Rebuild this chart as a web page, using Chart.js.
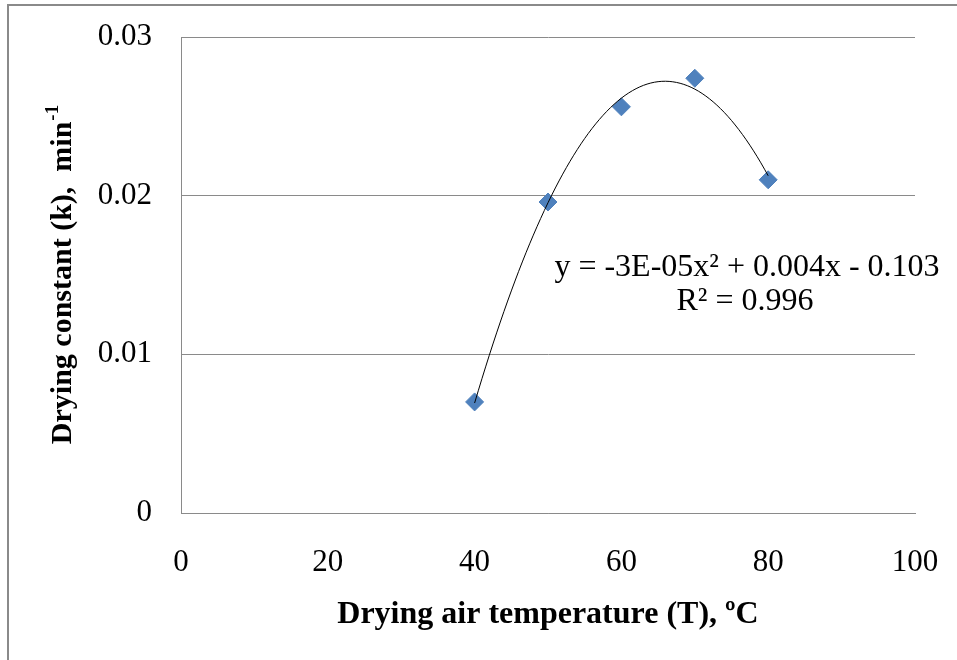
<!DOCTYPE html>
<html>
<head>
<meta charset="utf-8">
<script src="https://cdn.jsdelivr.net/npm/chart.js@4"></script>
<style>
  html, body { margin: 0; padding: 0; background: #fff; }
  #wrap { width: 957px; height: 660px; }
</style>
</head>
<body>
<div id="wrap"><canvas id="chart" width="957" height="660"></canvas></div>
<script>
// Drying constant vs drying air temperature
const temperatures = [40, 50, 60, 70, 80];
const dryingConstants = [0.007, 0.0196, 0.0256, 0.0274, 0.021];
const xTicks = [0, 20, 40, 60, 80, 100];
const yTicks = [0, 0.01, 0.02, 0.03];
const equationLines = ["y = -3E-05x² + 0.004x - 0.103", "R² = 0.996"];

const serif = "'Liberation Serif', 'Times New Roman', serif";

// least squares 2nd order fit of the measured points (the trendline)
function quadFit(xs, ys) {
  let s = [0, 0, 0, 0, 0], t = [0, 0, 0];
  xs.forEach((x, i) => {
    for (let k = 0; k < 5; k++) s[k] += Math.pow(x, k);
    for (let k = 0; k < 3; k++) t[k] += ys[i] * Math.pow(x, k);
  });
  const m = [[s[0], s[1], s[2], t[0]], [s[1], s[2], s[3], t[1]], [s[2], s[3], s[4], t[2]]];
  for (let i = 0; i < 3; i++) {
    for (let j = i + 1; j < 3; j++) {
      const f = m[j][i] / m[i][i];
      for (let k = i; k < 4; k++) m[j][k] -= f * m[i][k];
    }
  }
  const c = [0, 0, 0];
  for (let i = 2; i >= 0; i--) {
    let v = m[i][3];
    for (let k = i + 1; k < 3; k++) v -= m[i][k] * c[k];
    c[i] = v / m[i][i];
  }
  return c;
}
const coef = quadFit(temperatures, dryingConstants);
const trend = [];
const x0 = temperatures[0], x1 = temperatures[temperatures.length - 1];
for (let i = 0; i <= 80; i++) {
  const x = x0 + (x1 - x0) * i / 80;
  trend.push({ x: x, y: coef[0] + coef[1] * x + coef[2] * x * x });
}

// frame, axis titles and the trendline label
const decorations = {
  id: "decorations",
  beforeDraw(chart) {
    const ctx = chart.ctx;
    ctx.save();
    ctx.fillStyle = "#fff";
    ctx.fillRect(0, 0, chart.width, chart.height);
    ctx.strokeStyle = "#8a8a8a";
    ctx.lineWidth = 2;
    ctx.beginPath();
    ctx.moveTo(8, chart.height);
    ctx.lineTo(8, 5);
    ctx.lineTo(chart.width, 5);
    ctx.stroke();
    ctx.restore();
  },
  afterDraw(chart) {
    const ctx = chart.ctx;
    const area = chart.chartArea;
    ctx.save();
    ctx.fillStyle = "#000";
    ctx.textBaseline = "middle";

    // x title
    ctx.font = "bold 32px " + serif;
    ctx.textAlign = "center";
    ctx.fillText("Drying air temperature (T), ºC", (area.left + area.right) / 2, 615);

    // y title with superscript
    ctx.save();
    ctx.translate(63, (area.top + area.bottom) / 2);
    ctx.rotate(-Math.PI / 2);
    const main = "Drying constant (k),  min";
    ctx.font = "bold 30px " + serif;
    const w1 = ctx.measureText(main).width;
    ctx.font = "bold 19px " + serif;
    const w2 = ctx.measureText("-1").width;
    let sx = -(w1 + w2) / 2;
    ctx.textAlign = "left";
    ctx.font = "bold 30px " + serif;
    ctx.fillText(main, sx, 0);
    ctx.font = "bold 19px " + serif;
    ctx.fillText("-1", sx + w1 + 1, -10);
    ctx.restore();

    // equation
    ctx.font = "32px " + serif;
    ctx.textAlign = "center";
    ctx.fillText(equationLines[0], 747, 268);
    ctx.fillText(equationLines[1], 745, 302);
    ctx.restore();
  }
};

new Chart(document.getElementById("chart"), {
  type: "scatter",
  data: {
    datasets: [
      {
        label: "Trendline",
        data: trend,
        showLine: true,
        borderColor: "#000",
        borderWidth: 1,
        pointRadius: 0,
        fill: false,
        tension: 0,
      },
      {
        label: "k",
        data: temperatures.map((t, i) => ({ x: t, y: dryingConstants[i] })),
        pointStyle: "rectRot",
        pointRadius: 9,
        backgroundColor: "#4F81BD",
        borderColor: "#4F81BD",
        borderWidth: 1,
      },
    ],
  },
  plugins: [decorations],
  options: {
    responsive: false,
    animation: false,
    events: [],
    layout: { padding: { top: 37, right: 42, left: 0, bottom: 0 } },
    scales: {
      x: {
        type: "linear",
        min: 0,
        max: 100,
        afterBuildTicks: (scale) => { scale.ticks = xTicks.map((v) => ({ value: v })); },
        afterFit: (scale) => {
          scale.height = 147;
          scale.paddingLeft = 0;
          scale.paddingRight = 0;
        },
        grid: { display: false, drawTicks: false },
        border: { display: true, color: "#8a8a8a", width: 1 },
        ticks: {
          padding: 31,
          color: "#000",
          font: { family: serif, size: 31 },
          callback: (v) => v,
        },
      },
      y: {
        type: "linear",
        min: 0,
        max: 0.03,
        afterBuildTicks: (scale) => { scale.ticks = yTicks.map((v) => ({ value: v })); },
        afterFit: (scale) => {
          scale.width = 181;
          scale.paddingTop = 0;
          scale.paddingBottom = 0;
        },
        grid: { display: true, color: "#8a8a8a", lineWidth: 1, drawTicks: false },
        border: { display: true, color: "#8a8a8a", width: 1 },
        ticks: {
          padding: 29,
          color: "#000",
          font: { family: serif, size: 31 },
          callback: (v) => (v === 0 ? "0" : v.toFixed(2)),
        },
      },
    },
    plugins: {
      legend: { display: false },
      tooltip: { enabled: false },
      title: { display: false },
    },
  },
});
</script>
</body>
</html>
